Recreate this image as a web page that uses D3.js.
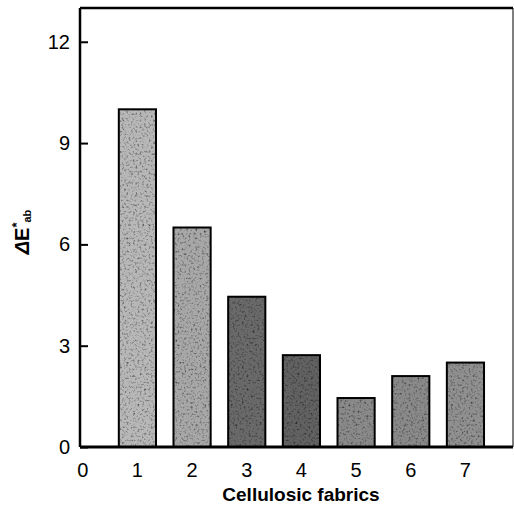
<!DOCTYPE html>
<html>
<head>
<meta charset="utf-8">
<script src="https://cdn.jsdelivr.net/npm/d3@7"></script>
<style>
  body { margin: 0; background: #fff; }
  text { font-family: "Liberation Sans", Arial, sans-serif; fill: #000; }
</style>
</head>
<body>
<svg id="chart" width="514" height="506"></svg>
<script>
var fabrics = [1, 2, 3, 4, 5, 6, 7];
var deltaE = [10.0, 6.5, 4.45, 2.72, 1.45, 2.1, 2.5];
var xTicks = [0, 1, 2, 3, 4, 5, 6, 7];
var yTicks = [0, 3, 6, 9, 12];
// rough tone of the speckled fill for each bar
var tone = ["#b8b8b8", "#a8a8a8", "#6a6a6a", "#626262", "#8a8a8a", "#8a8a8a", "#909090"];

var svg = d3.select("#chart"),
    mLeft = 80, mRight = 513, mTop = 8, mBottom = 447;

var x = d3.scaleLinear().domain([-0.05, 7.87]).range([mLeft, mRight]);
var y = d3.scaleLinear().domain([0, 13]).range([mBottom, mTop]);
var bw = x(0.68) - x(0);

// speckle texture
var defs = svg.append("defs");
var f = defs.append("filter").attr("id", "speck").attr("x", 0).attr("y", 0).attr("width", 1).attr("height", 1);
f.append("feTurbulence").attr("type", "fractalNoise").attr("baseFrequency", 0.45).attr("numOctaves", 2).attr("seed", 3).attr("result", "n");
f.append("feColorMatrix").attr("in", "n").attr("type", "matrix")
  .attr("values", "0 0 0 0 0  0 0 0 0 0  0 0 0 0 0  0 0 0 -2.2 1.1").attr("result", "dots");
f.append("feComposite").attr("in", "dots").attr("in2", "SourceGraphic").attr("operator", "in").attr("result", "d2");
f.append("feMerge").selectAll("feMergeNode").data(["SourceGraphic", "d2"]).join("feMergeNode").attr("in", d => d);

svg.append("g").selectAll("rect")
  .data(fabrics)
  .join("rect")
  .attr("x", (d, i) => x(d) - bw / 2)
  .attr("y", (d, i) => y(deltaE[i]))
  .attr("width", bw)
  .attr("height", (d, i) => y(0) - y(deltaE[i]))
  .attr("fill", (d, i) => tone[i])
  .attr("filter", "url(#speck)");

svg.append("g").selectAll("rect")
  .data(fabrics)
  .join("rect")
  .attr("x", (d, i) => x(d) - bw / 2)
  .attr("y", (d, i) => y(deltaE[i]))
  .attr("width", bw)
  .attr("height", (d, i) => y(0) - y(deltaE[i]))
  .attr("fill", "none")
  .attr("stroke", "#000")
  .attr("stroke-width", 2);

// frame
svg.append("line").attr("x1", mLeft).attr("x2", mRight).attr("y1", mTop).attr("y2", mTop).attr("stroke", "#000").attr("stroke-width", 2.5);
svg.append("line").attr("x1", mLeft).attr("x2", mRight).attr("y1", mBottom).attr("y2", mBottom).attr("stroke", "#000").attr("stroke-width", 3);
svg.append("line").attr("x1", mLeft).attr("x2", mLeft).attr("y1", mTop).attr("y2", mBottom).attr("stroke", "#000").attr("stroke-width", 2.5);
svg.append("line").attr("x1", mRight).attr("x2", mRight).attr("y1", mTop).attr("y2", mBottom).attr("stroke", "#000").attr("stroke-width", 1);

// y axis
var yAxis = d3.axisRight(y).tickValues(yTicks).tickSize(8).tickFormat("");
var gy = svg.append("g").attr("transform", "translate(" + mLeft + ",0)").call(yAxis);
gy.select(".domain").remove();
gy.selectAll("line").attr("stroke-width", 2);
svg.append("g").selectAll("text")
  .data(yTicks)
  .join("text")
  .attr("x", 70)
  .attr("y", d => y(d) + 7)
  .attr("text-anchor", "end")
  .attr("font-size", 20)
  .text(d => d);

// x tick labels
svg.append("g").selectAll("text")
  .data(xTicks)
  .join("text")
  .attr("x", d => x(d))
  .attr("y", 477)
  .attr("text-anchor", "middle")
  .attr("font-size", 20)
  .text(d => d);

svg.append("text")
  .attr("x", 301)
  .attr("y", 501)
  .attr("text-anchor", "middle")
  .attr("font-size", 19)
  .attr("font-weight", "bold")
  .text("Cellulosic fabrics");

var yl = svg.append("text")
  .attr("transform", "translate(29,232) rotate(-90)")
  .attr("text-anchor", "middle")
  .attr("font-size", 20)
  .attr("font-weight", "bold");
yl.append("tspan").attr("font-style", "italic").text("Δ");
yl.append("tspan").text("E");
yl.append("tspan").attr("dy", -8).attr("font-size", 13).text("*");
yl.append("tspan").attr("dy", 10).attr("font-size", 11).text("ab");
</script>
</body>
</html>
